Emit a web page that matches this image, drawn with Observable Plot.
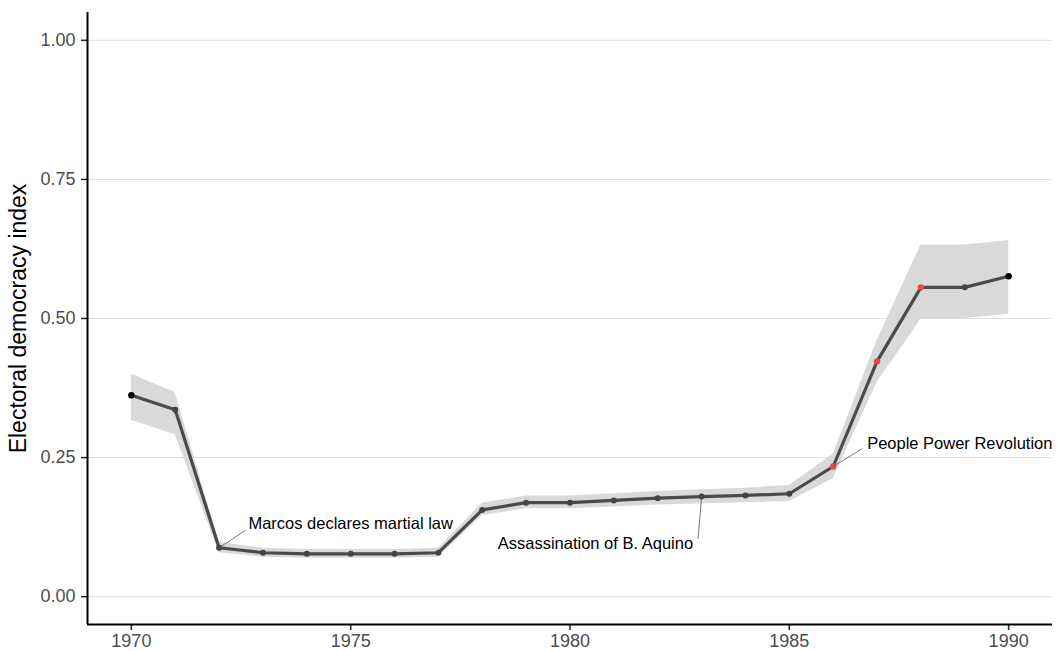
<!DOCTYPE html>
<html>
<head>
<meta charset="utf-8">
<script src="https://cdn.jsdelivr.net/npm/d3@7"></script>
<script src="https://cdn.jsdelivr.net/npm/@observablehq/plot@0.6"></script>
<style>
  html, body { margin: 0; padding: 0; background: #fff; }
  #chart { width: 1058px; height: 651px; }
</style>
</head>
<body>
<div id="chart"></div>
<script>
// Electoral democracy index, the Philippines 1970–1990 (point estimate and interval)
const years = [1970, 1971, 1972, 1973, 1974, 1975, 1976, 1977, 1978, 1979, 1980,
               1981, 1982, 1983, 1984, 1985, 1986, 1987, 1988, 1989, 1990];
const index = [0.362, 0.336, 0.088, 0.079, 0.077, 0.077, 0.077, 0.079, 0.156, 0.169, 0.169,
               0.173, 0.177, 0.180, 0.182, 0.185, 0.234, 0.423, 0.556, 0.556, 0.576];
const lower = [0.317, 0.291, 0.079, 0.071, 0.069, 0.069, 0.069, 0.071, 0.146, 0.158, 0.158,
               0.161, 0.165, 0.167, 0.169, 0.171, 0.212, 0.385, 0.498, 0.500, 0.507];
const upper = [0.400, 0.367, 0.098, 0.087, 0.085, 0.085, 0.085, 0.087, 0.168, 0.181, 0.181,
               0.185, 0.189, 0.192, 0.195, 0.200, 0.256, 0.460, 0.632, 0.632, 0.640];

// Years of the transition, and the two ends of the series
const transitionYears = [1986, 1987, 1988];
const endYears = [1970, 1990];

// Events
const eventYears = [1972, 1983, 1986];
const eventLabels = ["Marcos declares martial law", "Assassination of B. Aquino", "People Power Revolution"];

const xTicks = [1970, 1975, 1980, 1985, 1990];
const yTicks = [0, 0.25, 0.5, 0.75, 1];
const xDomain = [1969, 1991];
const yDomain = [-0.05, 1.05];

const rows = years.map((year, i) => ({
  year, value: index[i], lo: lower[i], hi: upper[i],
  kind: transitionYears.includes(year) ? "transition" : endYears.includes(year) ? "end" : "other"
}));
const events = eventYears.map((year, i) => ({year, label: eventLabels[i], value: index[years.indexOf(year)]}));

// Leader-line end (data units) and text nudge (px) for each event label
const placement = [
  {ox: 0.60, oy: 0.031, dx: 3, dy: -7, anchor: "start"},
  {ox: -0.08, oy: -0.076, dx: -5, dy: 5, anchor: "end"},
  {ox: 0.66, oy: 0.032, dx: 5, dy: -5, anchor: "start"}
];

const eventMarks = events.flatMap((e, i) => {
  const p = placement[i];
  const end = [{x1: e.year, y1: e.value, x2: e.year + p.ox, y2: e.value + p.oy, label: e.label}];
  return [
    Plot.link(end, {x1: "x1", y1: "y1", x2: "x2", y2: "y2", stroke: "#555", strokeWidth: 0.8}),
    Plot.text(end, {x: "x2", y: "y2", text: "label", dx: p.dx, dy: p.dy, textAnchor: p.anchor,
                    fill: "#000", fontSize: 16.5, clip: true})
  ];
});

const chart = Plot.plot({
  width: 1058,
  height: 651,
  marginLeft: 87,
  marginRight: 6,
  marginTop: 12,
  marginBottom: 27,
  style: {fontFamily: "'Liberation Sans', Arial, Helvetica, sans-serif", fontSize: "18px", color: "#4d4d4d", background: "#fff"},
  x: {domain: xDomain},
  y: {domain: yDomain},
  marks: [
    Plot.gridY(yTicks, {stroke: "#dedede", strokeOpacity: 1, strokeWidth: 1}),
    Plot.areaY(rows, {x: "year", y1: "lo", y2: "hi", fill: "#d9d9d9", fillOpacity: 1}),
    Plot.line(rows, {x: "year", y: "value", stroke: "#4a4a4a", strokeWidth: 3.2}),
    Plot.dot(rows.filter(d => d.kind === "other"), {x: "year", y: "value", r: 3, fill: "#444", stroke: null}),
    Plot.dot(rows.filter(d => d.kind === "end"), {x: "year", y: "value", r: 3.2, fill: "#000", stroke: null}),
    Plot.dot(rows.filter(d => d.kind === "transition"), {x: "year", y: "value", r: 3.2, fill: "#e5484d", stroke: null}),
    ...eventMarks,
    Plot.axisX(xTicks, {tickSize: 6, tickPadding: 4, stroke: "#222", strokeWidth: 1.5, fill: "#4d4d4d", fontSize: 18,
                        tickFormat: d3.format("d"), label: null}),
    Plot.axisY(yTicks, {tickSize: 6, tickPadding: 6, stroke: "#222", strokeWidth: 1.5, fill: "#4d4d4d", fontSize: 18,
                        tickFormat: d3.format(".2f"), label: null}),
    Plot.axisY([], {label: "Electoral democracy index", labelAnchor: "center", labelArrow: "none",
                    labelOffset: 78, fill: "#000", fontSize: 23, tickSize: 0}),
    Plot.ruleX([xDomain[0]], {stroke: "#000", strokeWidth: 2}),
    Plot.ruleY([yDomain[0]], {stroke: "#000", strokeWidth: 2})
  ]
});

document.getElementById("chart").appendChild(chart);
</script>
</body>
</html>
